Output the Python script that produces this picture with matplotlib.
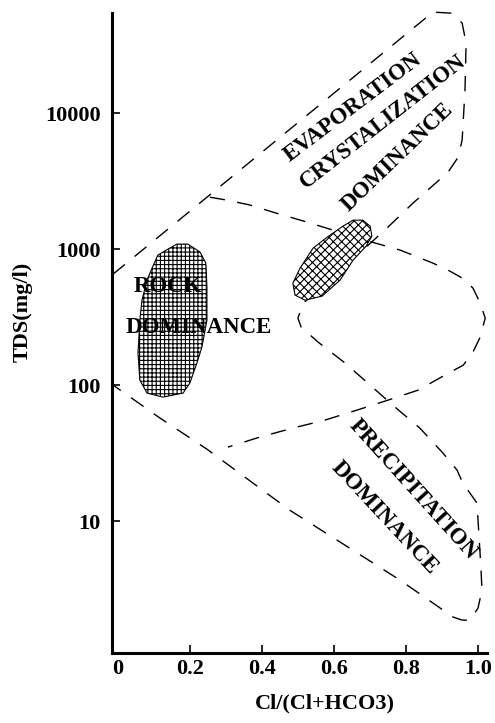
import matplotlib
matplotlib.use("Agg")
import matplotlib.pyplot as plt
from matplotlib.patches import Polygon
from matplotlib.ticker import NullLocator

plt.rcParams["font.family"] = ["Liberation Serif", "DejaVu Serif"]
plt.rcParams["font.weight"] = "bold"
plt.rcParams["hatch.linewidth"] = 0.8

# Gibbs diagram boundaries (x = Cl/(Cl+HCO3), y = TDS mg/l)
outer_x = [-0.012, 0.874, 0.927, 0.955, 0.966, 0.963, 0.955, 0.944, 0.916, 0.819,
           0.747, 0.680, 0.515, 0.500, 0.509, 0.556, 0.631, 0.700, 0.769, 0.838,
           0.902, 0.941, 0.957, 0.996, 0.999, 1.007, 1.010, 0.999, 0.977, 0.955,
           0.930, 0.783, 0.617, 0.478, 0.248, 0.118, -0.012]
outer_y = [655, 55300, 54300, 45900, 32700, 14800, 6330, 4740, 3680, 2180,
           1430, 984, 401, 311, 267, 207, 145, 100, 68.9, 48.3,
           31.6, 23.7, 19.0, 13.6, 10.2, 4.59, 3.11, 2.29, 1.87, 1.87,
           1.97, 3.68, 7.01, 12.0, 33.8, 57.2, 100]

inner_x = [0.256, 0.304, 0.367, 0.431, 0.525, 0.708, 0.783, 0.874, 0.916, 0.955,
           0.985, 1.005, 1.019, 1.005, 0.985, 0.958, 0.916, 0.833, 0.750, 0.664,
           0.575, 0.486, 0.395, 0.306]
inner_y = [2410, 2290, 2110, 1870, 1580, 1120, 984, 789, 701, 613,
           517, 401, 311, 225, 175, 140, 122, 91.8, 77.6, 65.5,
           55.3, 48.3, 41.5, 35.0]

# sample fields
rock_x = [0.165, 0.195, 0.229, 0.245, 0.248, 0.248, 0.234, 0.220, 0.201, 0.182,
          0.126, 0.082, 0.062, 0.057, 0.062, 0.068, 0.082, 0.096, 0.112, 0.140]
rock_y = [1089, 1089, 951, 789, 526, 300, 190, 145, 104, 87.4,
          81.6, 87.4, 109, 172, 300, 421, 592, 725, 904, 1000]

mid_x = [0.653, 0.680, 0.700, 0.705, 0.689, 0.653, 0.617, 0.567, 0.520, 0.492,
         0.486, 0.506, 0.542, 0.581, 0.625]
mid_y = [1633, 1633, 1476, 1246, 1052, 830, 592, 451, 421, 459,
         562, 725, 1016, 1224, 1476]

x_ticks = [0, 0.2, 0.4, 0.6, 0.8, 1.0]
x_ticklabels = ["0", "0.2", "0.4", "0.6", "0.8", "1.0"]
y_ticks = [10, 100, 1000, 10000]
y_ticklabels = ["10", "100", "1000", "10000"]

fig = plt.figure(figsize=(4.95, 7.23), dpi=100)
ax = fig.add_axes([0.2263, 0.0968, 0.7576, 0.885])
ax.set_yscale("log")
ax.set_xlim(-0.015, 1.024)
ax.set_ylim(10 ** 0.03, 10 ** 4.735)

dash = (0, (11, 9))
ax.plot(outer_x, outer_y, color="black", lw=1.0, linestyle=dash, clip_on=False, zorder=2)
ax.plot(inner_x, inner_y, color="black", lw=1.0, linestyle=dash, clip_on=False, zorder=2)

rock = list(zip(rock_x, rock_y))
mid = list(zip(mid_x, mid_y))
ax.add_patch(Polygon(rock, closed=True, facecolor="white", edgecolor="black",
                     lw=0.8, hatch="++++", zorder=3))
ax.add_patch(Polygon(mid, closed=True, facecolor="white", edgecolor="black",
                     lw=0.8, hatch="xxxx", zorder=3))

lab = dict(fontsize=16.5, fontweight="bold", color="black", zorder=4)
ax.text(0.140, 483, "ROCK", ha="center", va="baseline", **lab)
ax.text(0.224, 241, "DOMINANCE", ha="center", va="baseline", **lab)
ax.text(0.653, 11070, "EVAPORATION", ha="center", va="center", rotation=37,
        rotation_mode="anchor", **lab)
ax.text(0.736, 8590, "CRYSTALIZATION", ha="center", va="center", rotation=38,
        rotation_mode="anchor", **lab)
ax.text(0.775, 4745, "DOMINANCE", ha="center", va="center", rotation=44,
        rotation_mode="anchor", **lab)
ax.text(0.819, 17.2, "PRECIPITATION", ha="center", va="center", rotation=-48,
        rotation_mode="anchor", **lab)
ax.text(0.739, 10.5, "DOMINANCE", ha="center", va="center", rotation=-47,
        rotation_mode="anchor", **lab)

for side in ("top", "right"):
    ax.spines[side].set_visible(False)
for side in ("left", "bottom"):
    ax.spines[side].set_linewidth(2.2)

ax.set_xticks(x_ticks)
ax.set_xticklabels(x_ticklabels)
ax.set_yticks(y_ticks)
ax.set_yticklabels(y_ticklabels)
ax.yaxis.set_minor_locator(NullLocator())
ax.tick_params(direction="in", length=6, width=1.2, labelsize=16)
ax.tick_params(axis="y", pad=8)
ax.tick_params(axis="x", pad=4)
ax.xaxis.get_major_ticks()[0].tick1line.set_visible(False)

fig.text(325 / 495, 1 - 703 / 723, "Cl/(Cl+HCO3)", ha="center", va="center",
         fontsize=16, fontweight="bold")
fig.text(23 / 495, 1 - 312 / 723, "TDS(mg/l)", ha="center", va="center",
         rotation=90, fontsize=16, fontweight="bold")

fig.savefig("out.png", dpi=100)
